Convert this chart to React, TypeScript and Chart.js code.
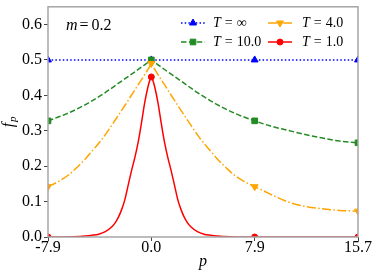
import React, { useEffect, useRef } from "react";
import { Chart, registerables } from "chart.js";

Chart.register(...registerables);

// ---- data ----
const xTicks = [-7.853981633974483, 0, 7.853981633974483, 15.707963267948966];
const yTicks = [0, 0.1, 0.2, 0.3, 0.4, 0.5, 0.6];
const markerP = [-7.853981633974483, 0, 7.853981633974483, 15.707963267948966];

const infP = [-7.853981633974483, 0, 7.853981633974483, 15.707963267948966];
const infF = [0.5, 0.5, 0.5, 0.5];

const t10P = [-7.853981633974483, -6.5, -5, -3.5, -2.46, -2, -1, -0.15, 0, 0.15, 1, 2, 2.46, 3.5, 5, 6.5, 7.853981633974483, 9, 10.4, 11.5, 12.9, 14.3, 15.707963267948966];
const t10F = [0.328, 0.347, 0.374, 0.408, 0.435, 0.447, 0.473, 0.496, 0.5, 0.496, 0.473, 0.447, 0.435, 0.408, 0.374, 0.347, 0.328, 0.314, 0.301, 0.291, 0.28, 0.271, 0.266];

const t4P = [-7.853981633974483, -7, -6.3, -5.7, -5, -4.5, -3.75, -3, -2.5, -2, -1.5, -1, -0.5, -0.15, 0, 0.15, 0.5, 1, 1.5, 2, 2.5, 3, 3.75, 4.5, 5, 5.7, 6.3, 7, 7.853981633974483, 8.5, 9.5, 10.4, 11.5, 12.9, 14.3, 15.707963267948966];
const t4F = [0.142, 0.158, 0.175, 0.195, 0.221, 0.243, 0.276, 0.316, 0.344, 0.372, 0.401, 0.43, 0.459, 0.48, 0.49, 0.48, 0.459, 0.43, 0.401, 0.372, 0.344, 0.316, 0.276, 0.243, 0.221, 0.195, 0.175, 0.158, 0.142, 0.131, 0.113, 0.099, 0.088, 0.08, 0.075, 0.073];

const t1P = [-7.853981633974483, -6, -5, -4.5, -4, -3.5, -3, -2.75, -2.5, -2.25, -2, -1.75, -1.5, -1.25, -1, -0.75, -0.5, -0.25, -0.1, 0, 0.1, 0.25, 0.5, 0.75, 1, 1.25, 1.5, 1.75, 2, 2.25, 2.5, 2.75, 3, 3.5, 4, 4.5, 5, 6, 7.853981633974483, 10, 12, 15.707963267948966];
const t1F = [0, 0.001, 0.003, 0.005, 0.008, 0.015, 0.029, 0.04, 0.056, 0.078, 0.107, 0.148, 0.188, 0.225, 0.268, 0.322, 0.38, 0.425, 0.444, 0.452, 0.444, 0.425, 0.38, 0.322, 0.268, 0.225, 0.188, 0.148, 0.107, 0.078, 0.056, 0.04, 0.029, 0.015, 0.008, 0.005, 0.003, 0.001, 0, 0, 0, 0];

const legendLabels = ["\u221e", "10.0", "4.0", "1.0"];
const annotationM = "0.2";

const SERIF = "'Liberation Serif', 'Times New Roman', serif";

function pts(xs: number[], ys: number[]) {
  return xs.map((x, i) => ({ x, y: ys[i] }));
}

function isMarker(x: number) {
  return markerP.some((m) => Math.abs(m - x) < 1e-6);
}

type Style = {
  color: string;
  dash: number[];
  marker: string;
  radius: number;
  rotation: number;
};

const styles: Style[] = [
  { color: "#0000ff", dash: [1.5, 2.2], marker: "triangle", radius: 4, rotation: 0 },
  { color: "#238b23", dash: [5.5, 2.4], marker: "rect", radius: 4, rotation: 0 },
  { color: "#ffa500", dash: [9, 2.4, 1.5, 2.4], marker: "triangle", radius: 4, rotation: 180 },
  { color: "#ff0000", dash: [], marker: "circle", radius: 3, rotation: 0 },
];

function drawMarker(ctx: CanvasRenderingContext2D, s: Style, x: number, y: number) {
  ctx.save();
  ctx.setLineDash([]);
  ctx.fillStyle = s.color;
  ctx.strokeStyle = s.color;
  ctx.lineWidth = 1;
  ctx.beginPath();
  const r = s.radius;
  if (s.marker === "circle") {
    ctx.arc(x, y, r, 0, Math.PI * 2);
  } else if (s.marker === "rect") {
    const h = r * Math.SQRT1_2;
    ctx.rect(x - h, y - h, 2 * h, 2 * h);
  } else {
    let rad = (s.rotation * Math.PI) / 180;
    ctx.moveTo(x + Math.sin(rad) * r, y - Math.cos(rad) * r);
    rad += (2 * Math.PI) / 3;
    ctx.lineTo(x + Math.sin(rad) * r, y - Math.cos(rad) * r);
    rad += (2 * Math.PI) / 3;
    ctx.lineTo(x + Math.sin(rad) * r, y - Math.cos(rad) * r);
    ctx.closePath();
  }
  ctx.fill();
  ctx.stroke();
  ctx.restore();
}

const overlay = {
  id: "overlay",
  afterDatasetsDraw(chart: any) {
    const ctx: CanvasRenderingContext2D = chart.ctx;
    const a = chart.chartArea;
    ctx.save();
    // frame
    ctx.strokeStyle = "#a6a6a6";
    ctx.lineWidth = 1.5;
    ctx.setLineDash([]);
    ctx.strokeRect(a.left, a.top, a.right - a.left, a.bottom - a.top);

    // m = 0.2
    ctx.fillStyle = "#000";
    ctx.textBaseline = "middle";
    ctx.textAlign = "left";
    let x = 66;
    ctx.font = `italic 16px ${SERIF}`;
    ctx.fillText("m", x, 26);
    x += ctx.measureText("m").width + 2;
    ctx.font = `16px ${SERIF}`;
    ctx.fillText("=", x, 26);
    x += ctx.measureText("=").width + 3;
    ctx.fillText(annotationM, x, 26);

    // legend
    const items = [
      { s: styles[0], label: legendLabels[0], lx: 181, ty: 23, tx: 213 },
      { s: styles[1], label: legendLabels[1], lx: 181, ty: 42, tx: 213 },
      { s: styles[2], label: legendLabels[2], lx: 268, ty: 23, tx: 302 },
      { s: styles[3], label: legendLabels[3], lx: 268, ty: 42, tx: 302 },
    ];
    for (const it of items) {
      ctx.save();
      ctx.strokeStyle = it.s.color;
      ctx.lineWidth = 1.5;
      ctx.setLineDash(it.s.dash);
      ctx.beginPath();
      ctx.moveTo(it.lx, it.ty);
      ctx.lineTo(it.lx + 24, it.ty);
      ctx.stroke();
      ctx.restore();
      drawMarker(ctx, it.s, it.lx + 12, it.ty);
      ctx.fillStyle = "#000";
      ctx.textBaseline = "middle";
      ctx.textAlign = "left";
      let tx = it.tx;
      ctx.font = `italic 14px ${SERIF}`;
      ctx.fillText("T", tx, it.ty);
      tx += ctx.measureText("T").width + 4;
      ctx.font = `14px ${SERIF}`;
      ctx.fillText("=", tx, it.ty);
      tx += ctx.measureText("=").width + 4;
      ctx.fillText(it.label, tx, it.ty);
    }

    // x title
    ctx.font = `italic 16px ${SERIF}`;
    ctx.textAlign = "center";
    ctx.textBaseline = "middle";
    ctx.fillText("p", (a.left + a.right) / 2, 262);

    // y title f_p
    ctx.save();
    ctx.translate(13, (a.top + a.bottom) / 2);
    ctx.rotate(-Math.PI / 2);
    ctx.textAlign = "left";
    ctx.textBaseline = "alphabetic";
    ctx.font = `italic 16px ${SERIF}`;
    const wf = ctx.measureText("f").width;
    ctx.font = `italic 11px ${SERIF}`;
    const wp = ctx.measureText("p").width;
    const start = -(wf + wp + 1) / 2;
    ctx.font = `italic 16px ${SERIF}`;
    ctx.fillText("f", start, 0);
    ctx.font = `italic 11px ${SERIF}`;
    ctx.fillText("p", start + wf + 1, 3);
    ctx.restore();

    ctx.restore();
  },
};

function dataset(label: string, xs: number[], ys: number[], s: Style) {
  return {
    label,
    data: pts(xs, ys),
    borderColor: s.color,
    backgroundColor: s.color,
    borderWidth: 1.5,
    borderDash: s.dash,
    cubicInterpolationMode: "monotone" as const,
    pointStyle: s.marker,
    pointRotation: s.rotation,
    pointRadius: (c: any) => (c.raw && isMarker(c.raw.x) ? s.radius : 0),
    pointBorderWidth: 1,
    pointBorderColor: s.color,
    pointBackgroundColor: s.color,
    fill: false,
  };
}

export default function App() {
  const ref = useRef<HTMLCanvasElement>(null);
  useEffect(() => {
    document.body.style.margin = "0";
    const canvas = ref.current!;
    const chart = new Chart(canvas, {
      type: "line",
      data: {
        datasets: [
          dataset("T=1.0", t1P, t1F, styles[3]),
          dataset("T=4.0", t4P, t4F, styles[2]),
          dataset("T=10.0", t10P, t10F, styles[1]),
          dataset("T=inf", infP, infF, styles[0]),
        ],
      },
      options: {
        responsive: false,
        animation: false,
        events: [],
        layout: { padding: { left: 0, top: 5, right: 16, bottom: 0 } },
        plugins: { legend: { display: false }, tooltip: { enabled: false } },
        scales: {
          x: {
            type: "linear",
            min: xTicks[0],
            max: xTicks[xTicks.length - 1],
            afterBuildTicks: (sc: any) => {
              sc.ticks = xTicks.map((v) => ({ value: v }));
            },
            afterFit: (sc: any) => {
              sc.height = 40;
            },
            grid: { drawOnChartArea: false, drawTicks: true, tickLength: 4, color: "#444", lineWidth: 1 },
            border: { display: false },
            ticks: {
              autoSkip: false,
              maxRotation: 0,
              padding: 0,
              color: "#000",
              font: { family: SERIF, size: 16, lineHeight: 0.9 },
              callback: (v: any) => Number(v).toFixed(1),
            },
          },
          y: {
            type: "linear",
            min: 0,
            max: 0.65,
            afterBuildTicks: (sc: any) => {
              sc.ticks = yTicks.map((v) => ({ value: v }));
            },
            afterFit: (sc: any) => {
              sc.width = 48;
            },
            grid: { drawOnChartArea: false, drawTicks: true, tickLength: 4, color: "#444", lineWidth: 1 },
            border: { display: false },
            ticks: {
              padding: 2,
              color: "#000",
              font: { family: SERIF, size: 16, lineHeight: 0.6 },
              callback: (v: any) => Number(v).toFixed(1),
            },
          },
        },
      },
      plugins: [overlay],
    } as any);
    return () => chart.destroy();
  }, []);
  return (
    <div style={{ width: 374, height: 277 }}>
      <canvas ref={ref} width={374} height={277} />
    </div>
  );
}
